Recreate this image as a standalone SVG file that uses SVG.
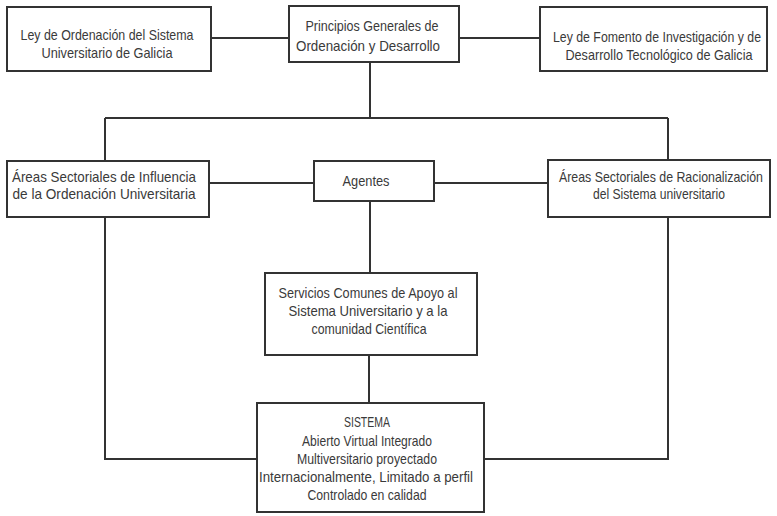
<svg xmlns="http://www.w3.org/2000/svg" width="777" height="516" viewBox="0 0 777 516">
<style>
rect{fill:#fff;stroke:#333;stroke-width:2}
text{font-family:"Liberation Sans",Arial,sans-serif;font-size:14px;fill:#3a3a3a;text-anchor:middle}
.c line,.c path{stroke:#333;stroke-width:2;fill:none}
</style>
<rect x="0" y="0" width="777" height="516" style="fill:#fff;stroke:none"/>
<g class="c" id="connectors">
<line x1="211" y1="38" x2="289" y2="38"/>
<line x1="459" y1="38" x2="540" y2="38"/>
<line x1="370" y1="62" x2="370" y2="118"/>
<line x1="105" y1="118" x2="668" y2="118"/>
<line x1="105" y1="118" x2="105" y2="161"/>
<line x1="668" y1="118" x2="668" y2="160"/>
<line x1="209" y1="183" x2="314" y2="183"/>
<line x1="434" y1="183" x2="548" y2="183"/>
<line x1="370" y1="201" x2="370" y2="273"/>
<line x1="369" y1="355" x2="369" y2="403"/>
<path d="M105 217 V459 H257"/>
<path d="M668 217 V459 H484"/>
</g>
<g id="ley-ordenacion">
<rect x="7" y="7" width="204" height="64"/>
<g transform="scale(0.85 1)">
<text x="125.88" y="40" textLength="203.53" lengthAdjust="spacingAndGlyphs">Ley de Ordenación del Sistema</text>
<text x="125.88" y="58" textLength="154.12" lengthAdjust="spacingAndGlyphs">Universitario de Galicia</text>
</g>
</g>
<g id="principios">
<rect x="289" y="6" width="170" height="56"/>
<g transform="scale(0.85 1)">
<text x="437.65" y="31" textLength="156.47" lengthAdjust="spacingAndGlyphs">Principios Generales de</text>
<text x="432.94" y="51" textLength="169.41" lengthAdjust="spacingAndGlyphs">Ordenación y Desarrollo</text>
</g>
</g>
<g id="ley-fomento">
<rect x="540" y="7" width="227" height="64"/>
<g transform="scale(0.85 1)">
<text x="772.94" y="42" textLength="244.71" lengthAdjust="spacingAndGlyphs">Ley de Fomento de Investigación y de</text>
<text x="775.29" y="60" textLength="220" lengthAdjust="spacingAndGlyphs">Desarrollo Tecnológico de Galicia</text>
</g>
</g>
<g id="areas-influencia">
<rect x="7" y="161" width="202" height="56"/>
<g transform="scale(0.85 1)">
<text x="122.35" y="182" textLength="216.47" lengthAdjust="spacingAndGlyphs">Áreas Sectoriales de Influencia</text>
<text x="122.35" y="199" textLength="215.29" lengthAdjust="spacingAndGlyphs">de la Ordenación Universitaria</text>
</g>
</g>
<g id="agentes">
<rect x="314" y="161" width="120" height="40"/>
<g transform="scale(0.85 1)">
<text x="430.59" y="186" textLength="55.29" lengthAdjust="spacingAndGlyphs">Agentes</text>
</g>
</g>
<g id="areas-racionalizacion">
<rect x="548" y="160" width="222" height="57"/>
<g transform="scale(0.85 1)">
<text x="777.65" y="182" textLength="240" lengthAdjust="spacingAndGlyphs">Áreas Sectoriales de Racionalización</text>
<text x="775.29" y="199" textLength="155.29" lengthAdjust="spacingAndGlyphs">del Sistema universitario</text>
</g>
</g>
<g id="servicios">
<rect x="265" y="273" width="212" height="82"/>
<g transform="scale(0.85 1)">
<text x="432.94" y="298" textLength="210.59" lengthAdjust="spacingAndGlyphs">Servicios Comunes de Apoyo al</text>
<text x="432.94" y="316" textLength="187.06" lengthAdjust="spacingAndGlyphs">Sistema Universitario y a la</text>
<text x="434.12" y="334" textLength="135.29" lengthAdjust="spacingAndGlyphs">comunidad Científica</text>
</g>
</g>
<g id="sistema">
<rect x="257" y="403" width="227" height="109"/>
<g transform="scale(0.85 1)">
<text x="431.76" y="427" textLength="54.12" lengthAdjust="spacingAndGlyphs">SISTEMA</text>
<text x="431.76" y="446" textLength="152.94" lengthAdjust="spacingAndGlyphs">Abierto Virtual Integrado</text>
<text x="431.76" y="464" textLength="164.71" lengthAdjust="spacingAndGlyphs">Multiversitario proyectado</text>
<text x="430.59" y="482" textLength="251.76" lengthAdjust="spacingAndGlyphs">Internacionalmente, Limitado a perfil</text>
<text x="431.76" y="500" textLength="140" lengthAdjust="spacingAndGlyphs">Controlado en calidad</text>
</g>
</g>
</svg>
